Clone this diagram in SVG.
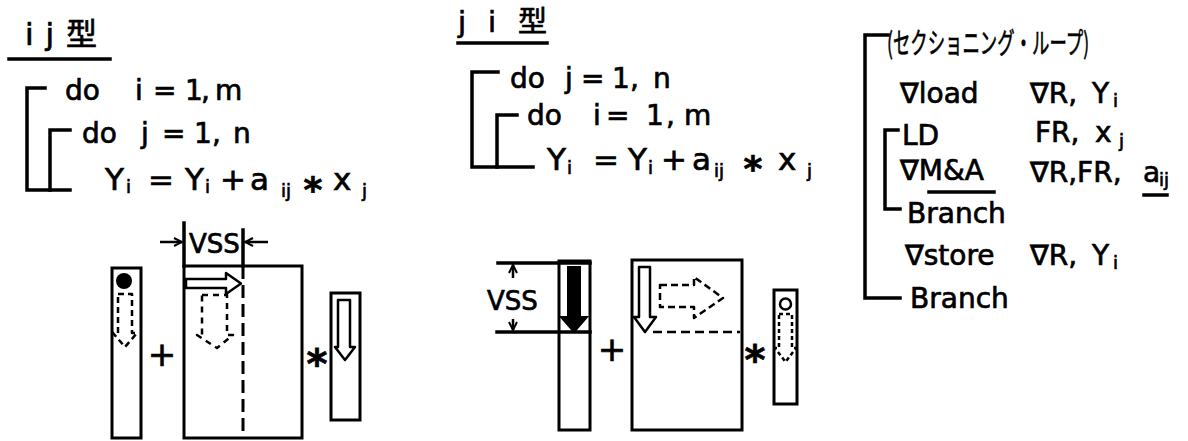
<svg xmlns="http://www.w3.org/2000/svg" width="1188" height="441" viewBox="0 0 1188 441">
<defs>
<style>
.t{font-family:"DejaVu Sans","Noto Sans CJK JP",sans-serif;fill:#000;stroke:#000;stroke-width:0.7px}
.m{font-size:28px}
.s{font-size:18px}
.ln{stroke:#000;stroke-width:3.5;fill:none;stroke-linecap:square;stroke-linejoin:miter}
.box{stroke:#000;stroke-width:3;fill:none}
.ar{stroke:#000;stroke-width:2.5;fill:none;stroke-linejoin:round}
.da{stroke-dasharray:6 4}
.big{font-size:34px}
.ast{font-size:40px;font-weight:bold}
.as2{font-size:36px;font-weight:bold}
.jp{font-family:"Noto Sans CJK JP","DejaVu Sans",sans-serif;font-size:29px;fill:#000;stroke:#000;stroke-width:0.6px}
</style>
<marker id="ah" viewBox="0 0 10 10" refX="9" refY="5" markerWidth="10" markerHeight="10" markerUnits="userSpaceOnUse" orient="auto">
<path d="M1,1 L9,5 L1,9" fill="none" stroke="#000" stroke-width="2"/>
</marker>
</defs>
<rect width="1188" height="441" fill="#fff"/>

<g id="ij-title">
<text class="t" x="25" y="45" font-size="31" textLength="72" lengthAdjust="spacing">ij型</text>
<path class="ln" d="M9 59 H110" stroke-width="3"/>
</g>

<g id="ij-loop">
<path class="ln" d="M45 88 H27 V190 H70"/>
<path class="ln" d="M70 130 H50 V190"/>
<text class="t m" y="100"><tspan x="65">do</tspan><tspan x="135">i</tspan><tspan x="153">=</tspan><tspan x="185">1</tspan><tspan x="201">,</tspan><tspan x="215">m</tspan></text>
<text class="t m" y="143"><tspan x="82">do</tspan><tspan x="141">j</tspan><tspan x="162">=</tspan><tspan x="194">1</tspan><tspan x="212">,</tspan><tspan x="233">n</tspan></text>
<text class="t" font-size="31" y="190"><tspan x="105">Y</tspan><tspan x="148">=</tspan><tspan x="185">Y</tspan><tspan x="220">+</tspan><tspan x="250">a</tspan><tspan x="333">x</tspan></text>
<text class="t s" y="193"><tspan x="126">i</tspan><tspan x="205">i</tspan><tspan x="281" y="197">ij</tspan><tspan x="362" y="197">j</tspan></text>
<text class="t as2" x="313" y="202" text-anchor="middle">*</text>
</g>

<g id="ij-diagram">
<rect class="box" x="112" y="268" width="29" height="170"/>
<circle cx="124" cy="281" r="8" fill="#000"/>
<path class="ar da" d="M118 294 H132 V333 H137 L125 347 L113 333 H118 Z" stroke-dasharray="5 3"/>
<text class="t big" x="162" y="366" text-anchor="middle">+</text>
<path class="ln" d="M184 223 V266" stroke-width="2.5"/>
<rect class="box" x="184" y="266" width="118" height="172"/>
<path class="ln" d="M243 230 V266" stroke-width="2.5"/>
<path d="M243 266 V438" stroke="#000" stroke-width="3" stroke-dasharray="13 6"/>
<path class="ar" d="M160 242 H182" marker-end="url(#ah)"/>
<path class="ar" d="M268 242 H245" marker-end="url(#ah)"/>
<text class="t" font-size="26" x="189" y="253">VSS</text>
<path class="ar" d="M186 279 H226 V273 L241 283.5 L226 294 V288 H186 Z"/>
<path class="ar" d="M202 295 H227 V335 H233 L217 348 L197 335 H202 Z" stroke-dasharray="6 5"/>
<text class="t ast" x="317" y="378" text-anchor="middle">*</text>
<rect class="box" x="331" y="293" width="29" height="127"/>
<path class="ar" d="M338 300 H350 V347 H355 L345 360 L335 347 H338 Z"/>
</g>

<g id="ji-title">
<text class="t" x="458" y="32" font-size="29" textLength="89" lengthAdjust="spacing">ji型</text>
<path class="ln" d="M458 43 H547" stroke-width="3"/>
</g>

<g id="ji-loop">
<path class="ln" d="M498 72 H472 V167 H533"/>
<path class="ln" d="M517 115 H497 V167"/>
<text class="t m" y="88"><tspan x="510">do</tspan><tspan x="565">j</tspan><tspan x="581">=</tspan><tspan x="612">1</tspan><tspan x="630">,</tspan><tspan x="653">n</tspan></text>
<text class="t m" y="125"><tspan x="527">do</tspan><tspan x="593">i</tspan><tspan x="606">=</tspan><tspan x="646">1</tspan><tspan x="666">,</tspan><tspan x="684">m</tspan></text>
<text class="t" font-size="31" y="170"><tspan x="547">Y</tspan><tspan x="593">=</tspan><tspan x="628">Y</tspan><tspan x="661">+</tspan><tspan x="692">a</tspan><tspan x="778">x</tspan></text>
<text class="t s" y="174"><tspan x="567">i</tspan><tspan x="648">i</tspan><tspan x="714" y="177">ij</tspan><tspan x="807" y="177">j</tspan></text>
<text class="t as2" x="753" y="181" text-anchor="middle">*</text>
</g>

<g id="ji-diagram">
<path class="ln" d="M498 263 H590" stroke-width="2.5"/>
<path class="ln" d="M497 332 H590" stroke-width="2.5"/>
<path class="ar" d="M513 278 V265" marker-end="url(#ah)"/>
<path class="ar" d="M513 319 V330" marker-end="url(#ah)"/>
<text class="t" font-size="26" x="487" y="310">VSS</text>
<rect class="box" x="559" y="261" width="31" height="169"/>
<path d="M568 267 H580 V317 H587 L574 332 L561 317 H568 Z" fill="#000" stroke="#000" stroke-width="2"/>
<text class="t big" x="612" y="361" text-anchor="middle">+</text>
<rect class="box" x="632" y="260" width="110" height="170"/>
<path class="ar" d="M639 267 H650 V317 H656 L645 332 L634 317 H639 Z"/>
<path d="M653 332 H740" stroke="#000" stroke-width="2.5" stroke-dasharray="9 5"/>
<path class="ar" d="M660 285 H694 V277 L723 298 L694 318 V307 H660 Z" stroke-dasharray="7 4"/>
<text class="t ast" x="755" y="374" text-anchor="middle">*</text>
<rect class="box" x="774" y="290" width="23" height="114"/>
<circle cx="785.5" cy="304" r="5.5" fill="none" stroke="#000" stroke-width="2.5"/>
<path class="ar" d="M779 314 H792 V348 H796 L785.5 362 L775 348 H779 Z" stroke-dasharray="4 3"/>
</g>

<g id="sectioning-loop">
<path class="ln" d="M888 35 H865 V298 H900"/>
<path class="ln" d="M898 130 H885 V209 H900"/>
<text class="jp" transform="translate(887 54) scale(0.6 1)">(セクショニング・ループ)</text>
<text class="t m" x="900" y="103">∇load</text>
<text class="t m" y="103"><tspan x="1030">∇R,</tspan><tspan x="1092">Y</tspan></text>
<text class="t s" x="1113" y="107">i</text>
<text class="t m" x="902" y="145">LD</text>
<text class="t m" y="142"><tspan x="1035">FR,</tspan><tspan x="1095">x</tspan></text>
<text class="t s" x="1119" y="147">j</text>
<text class="t m" x="900" y="180">∇M&amp;A</text>
<path class="ln" d="M929 192 H994" stroke-width="4"/>
<text class="t m" y="182"><tspan x="1030">∇R,FR,</tspan><tspan x="1143">a</tspan></text>
<text class="t s" x="1159" y="186">ij</text>
<path class="ln" d="M1144 195 H1167" stroke-width="4"/>
<text class="t m" x="907" y="223">Branch</text>
<text class="t m" x="905" y="265">∇store</text>
<text class="t m" y="265"><tspan x="1030">∇R,</tspan><tspan x="1092">Y</tspan></text>
<text class="t s" x="1113" y="269">i</text>
<text class="t m" x="910" y="308">Branch</text>
</g>
</svg>
